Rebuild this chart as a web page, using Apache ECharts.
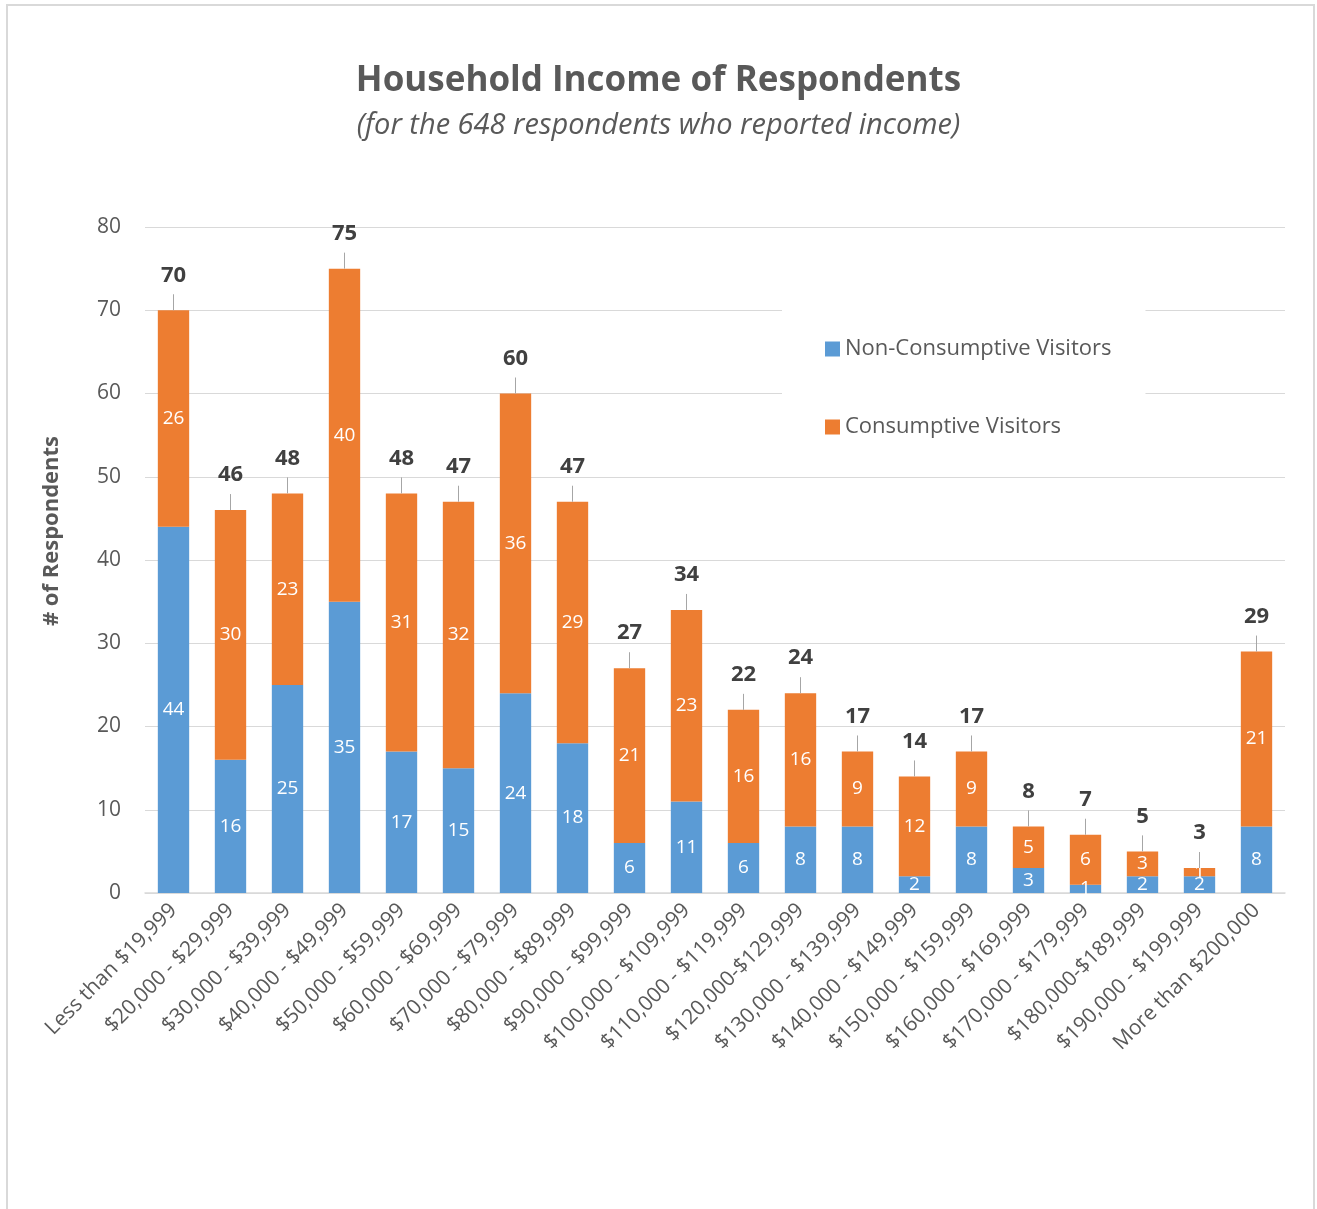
<!DOCTYPE html>
<html>
<head>
<meta charset="utf-8">
<script src="https://cdn.jsdelivr.net/npm/echarts@6/dist/echarts.min.js"></script>
<style>
  html, body { margin: 0; padding: 0; background: #fff; }
  #chart { width: 1317px; height: 1209px; }
</style>
</head>
<body>
<div id="chart"></div>
<script>
const categories = [
  "Less than $19,999", "$20,000 - $29,999", "$30,000 - $39,999", "$40,000 - $49,999",
  "$50,000 - $59,999", "$60,000 - $69,999", "$70,000 - $79,999", "$80,000 - $89,999",
  "$90,000 - $99,999", "$100,000 - $109,999", "$110,000 - $119,999", "$120,000-$129,999",
  "$130,000 - $139,999", "$140,000 - $149,999", "$150,000 - $159,999", "$160,000 - $169,999",
  "$170,000 - $179,999", "$180,000-$189,999", "$190,000 - $199,999", "More than $200,000"
];
const nonConsumptive = [44, 16, 25, 35, 17, 15, 24, 18, 6, 11, 6, 8, 8, 2, 8, 3, 1, 2, 2, 8];
const consumptive = [26, 30, 23, 40, 31, 32, 36, 29, 21, 23, 16, 16, 9, 12, 9, 5, 6, 3, 1, 21];
const totals = [70, 46, 48, 75, 48, 47, 60, 47, 27, 34, 22, 24, 17, 14, 17, 8, 7, 5, 3, 29];

const FONT = "'Open Sans', 'Noto Sans', sans-serif";
const chart = echarts.init(document.getElementById("chart"));

const segLabel = {
  show: true,
  position: "inside",
  color: "#fff",
  fontSize: 19,
  fontFamily: FONT
};

chart.setOption({
  animation: false,
  title: {
    text: "Household Income of Respondents",
    subtext: "(for the 648 respondents who reported income)",
    left: "center",
    top: 59,
    itemGap: 12,
    textStyle: { fontFamily: FONT, fontWeight: "bold", fontSize: 35, color: "#595959" },
    subtextStyle: { fontFamily: FONT, fontStyle: "italic", fontSize: 29, color: "#595959" }
  },
  legend: {
    data: ["Non-Consumptive Visitors", "Consumptive Visitors"],
    orient: "vertical",
    left: 782,
    top: 302,
    padding: [36, 34, 36, 43],
    itemGap: 56,
    itemWidth: 15,
    itemHeight: 15,
    icon: "rect",
    backgroundColor: "#fff",
    textStyle: { fontFamily: FONT, fontSize: 22, color: "#595959" }
  },
  grid: { left: 145, right: 32, top: 227, bottom: 316, containLabel: false },
  xAxis: {
    type: "category",
    data: categories,
    axisTick: { show: false },
    axisLine: { lineStyle: { color: "#d9d9d9", width: 1.5 } },
    axisLabel: {
      interval: 0,
      rotate: 45,
      margin: 14,
      fontFamily: FONT,
      fontSize: 21,
      color: "#595959"
    }
  },
  yAxis: {
    type: "value",
    min: 0,
    max: 80,
    interval: 10,
    name: "# of Respondents",
    nameLocation: "middle",
    nameGap: 82,
    nameTextStyle: {
      fontFamily: FONT, fontWeight: "bold", fontSize: 22, color: "#595959",
      padding: [0, 0, 0, 58]
    },
    axisLabel: { fontFamily: FONT, fontSize: 21, color: "#595959", margin: 24 },
    splitLine: { lineStyle: { color: "#d9d9d9", width: 1 } }
  },
  graphic: [{
    type: "rect",
    shape: { x: 7, y: 5, width: 1307, height: 1215 },
    style: { fill: "none", stroke: "#d9d9d9", lineWidth: 2 },
    silent: true
  }],
  series: [
    {
      name: "Non-Consumptive Visitors",
      type: "bar",
      stack: "total",
      barWidth: "55%",
      data: nonConsumptive,
      itemStyle: { color: "#5B9BD5" },
      label: segLabel
    },
    {
      name: "Consumptive Visitors",
      type: "bar",
      stack: "total",
      data: consumptive,
      itemStyle: { color: "#ED7D31" },
      label: segLabel
    },
    {
      name: "Total",
      type: "custom",
      data: totals.map((t, i) => [i, t]),
      z: 5,
      renderItem: (params, api) => {
        const p = api.coord([api.value(0), api.value(1)]);
        return {
          type: "group",
          children: [
            {
              type: "line",
              shape: { x1: p[0], y1: p[1], x2: p[0], y2: p[1] - 16 },
              style: { stroke: "#a6a6a6", lineWidth: 1 }
            },
            {
              type: "text",
              x: p[0],
              y: p[1] - 24,
              style: {
                text: String(api.value(1)),
                align: "center",
                verticalAlign: "bottom",
                fill: "#404040",
                font: "bold 22px " + FONT
              }
            }
          ]
        };
      }
    }
  ]
});
</script>
</body>
</html>
